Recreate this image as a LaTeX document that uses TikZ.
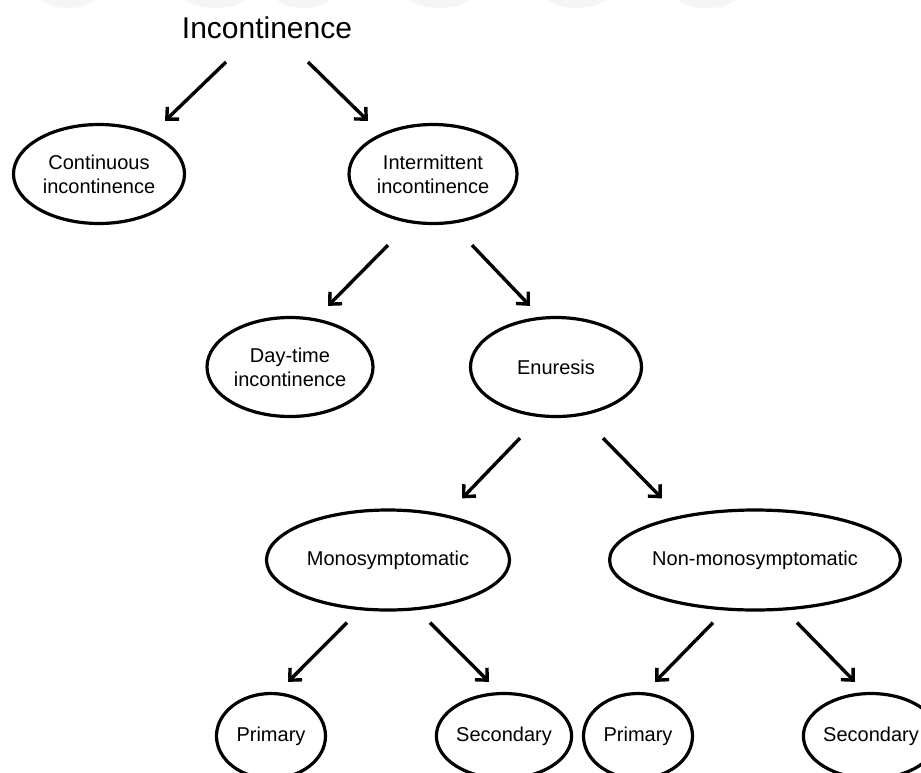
\documentclass[tikz,border=0pt]{standalone}
\usepackage{fontspec}
\setmainfont{Liberation Sans}
\usetikzlibrary{shapes.geometric,arrows.meta,calc}

\tikzset{
  bubble/.style={ellipse,draw,line width=3.2pt,inner sep=0pt,align=center,
    font=\fontsize{20}{24}\selectfont},
  arr/.style={line width=3.4pt,-{Straight Barb[length=9pt,width=17pt]}}
}

\begin{document}
\begin{tikzpicture}[x=1pt,y=-1pt]
\clip (0,0) rectangle (921,772);
\fill[white] (0,0) rectangle (921,772);
% faint marks along the top edge
\foreach \cx/\rx in {68/27,215/32,303/27,439/32,577/30,707/30}
  \fill[black!4] (\cx,-4) ellipse ({\rx} and 12);
\node[font=\fontsize{30}{36}\selectfont,inner sep=0pt] (inc) at (267,28) {Incontinence};
\node[bubble,minimum width=171pt,minimum height=99pt] (cont) at (99,174) {Continuous\\incontinence};
\node[bubble,minimum width=168pt,minimum height=99pt] (inter) at (433,174) {Intermittent\\incontinence};
\node[bubble,minimum width=166pt,minimum height=99pt] (day) at (290,367) {Day-time\\incontinence};
\node[bubble,minimum width=171pt,minimum height=99pt] (enu) at (556,367) {Enuresis};
\node[bubble,minimum width=243pt,minimum height=100pt] (mono) at (388,560) {Monosymptomatic};
\node[bubble,minimum width=242pt,minimum height=100pt] (non) at (755,560) {Non-monosymptomatic};
\node[bubble,minimum width=109pt,minimum height=85pt] (prima) at (271,736) {Primary};
\node[bubble,minimum width=104pt,minimum height=85pt] (seca) at (504,736) {Secondary};
\node[bubble,minimum width=109pt,minimum height=85pt] (primb) at (638,736) {Primary};
\node[bubble,minimum width=104pt,minimum height=85pt] (secb) at (871,736) {Secondary};
% arrows
\draw[arr] ($(inc)+(-41,34)$) -- ($(cont.north)+(66,-2)$);
\draw[arr] ($(inc)+(41,34)$) -- ($(inter.north)+(-65,-2)$);
\draw[arr] ($(inter.south)+(-45,20)$) -- ($(day.north)+(38,-10)$);
\draw[arr] ($(inter.south)+(39,20)$) -- ($(enu.north)+(-26,-10)$);
\draw[arr] ($(enu.south)+(-36,20)$) -- ($(mono.north)+(74,-10)$);
\draw[arr] ($(enu.south)+(47,20)$) -- ($(non.north)+(-93,-10)$);
\draw[arr] ($(mono.south)+(-41,11)$) -- ($(prima.north)+(17,-10)$);
\draw[arr] ($(mono.south)+(42,11)$) -- ($(seca.north)+(-15,-10)$);
\draw[arr] ($(non.south)+(-42,11)$) -- ($(primb.north)+(17,-10)$);
\draw[arr] ($(non.south)+(42,11)$) -- ($(secb.north)+(-16,-10)$);
\end{tikzpicture}
\end{document}
